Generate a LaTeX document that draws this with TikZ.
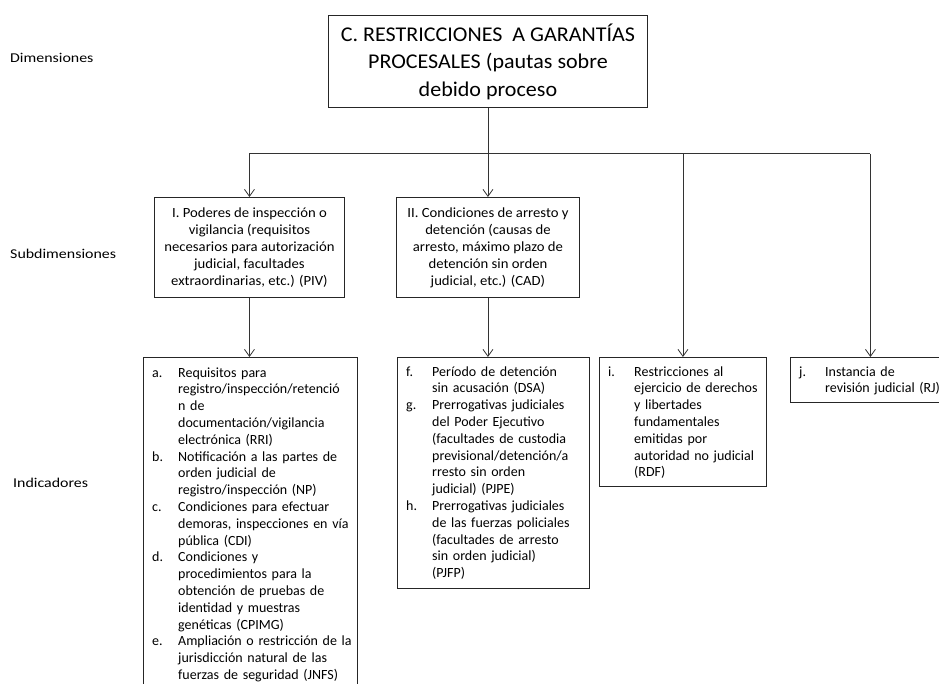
\documentclass[tikz,border=0pt]{standalone}
\usepackage{fontspec}
\setmainfont{Carlito}
\newfontfamily\widefont{Carlito}[FakeStretch=1.05]
\newfontfamily\sidefont{Carlito}[FakeStretch=1.18]
\usetikzlibrary{arrows.meta}
% hanging list: every line is indented, an item mark sits in the margin
\newcommand{\mstart}{\leftskip=26pt\parindent=0pt\parskip=0pt\relax}
\newcommand{\mitem}[1]{\par\hspace*{-26pt}\makebox[26pt][l]{\rule{0pt}{12pt}#1}\ignorespaces}
\begin{document}
\begin{tikzpicture}[x=1pt,y=-1pt,
  box/.style={draw=black!85, line width=0.9pt, rectangle, inner sep=0pt, anchor=north west},
  body/.style={inner sep=0pt, anchor=north west, text width=230pt, align=left,
    font=\fontsize{14}{16.8}\selectfont},
  sub/.style={font=\widefont\fontsize{14}{17}\selectfont, align=center},
  head/.style={font=\widefont\fontsize{21}{27.5}\selectfont, align=center},
  side/.style={font=\sidefont\fontsize{13.5}{15}\selectfont, inner sep=0pt, anchor=west},
  link/.style={draw=black!80, line width=0.8pt},
  arr/.style={link, -{Straight Barb[length=7pt,width=10pt]}}]
\clip (0,0) rectangle (939,684);
\fill[white] (0,0) rectangle (939,684);

% row labels
\node[side] (lbdim) at (10,58) {Dimensiones};
\node[side] (lbsub) at (10,254) {Subdimensiones};
\node[side] (lbind) at (13,483) {Indicadores};

% dimension
\node[box, head, minimum width=319pt, minimum height=92pt] (dim) at (328,15)
  {C. RESTRICCIONES\ \ A GARANTÍAS\\PROCESALES (pautas sobre\\debido proceso};

% subdimensions
\node[box, sub, minimum width=190pt, minimum height=100pt] (piv) at (154,197)
  {I. Poderes de inspección o\\vigilancia (requisitos\\necesarios para autorización\\judicial, facultades\\extraordinarias, etc.) (PIV)};
\node[box, sub, minimum width=183pt, minimum height=100pt] (cad) at (396,197)
  {II. Condiciones de arresto y\\detención (causas de\\arresto, máximo plazo de\\detención sin orden\\judicial, etc.) (CAD)};

% indicator boxes
\node[box, minimum width=214pt, minimum height=360pt] (ae) at (143,357) {};
\node[box, minimum width=192pt, minimum height=231pt] (fh) at (397,357) {};
\node[box, minimum width=167pt, minimum height=129pt] (rdf) at (599,357) {};
\node[box, minimum width=160pt, minimum height=45pt] (rj) at (790,357) {};

\node[body] (aetxt) at ([shift={(9,3)}]ae.north west) {\mstart
\mitem{a.}Requisitos para\\
registro/inspección/retenció\\
n de\\
documentación/vigilancia\\
electrónica (RRI)
\mitem{b.}Notificación a las partes de\\
orden judicial de\\
registro/inspección (NP)
\mitem{c.}Condiciones para efectuar\\
demoras, inspecciones en vía\\
pública (CDI)
\mitem{d.}Condiciones y\\
procedimientos para la\\
obtención de pruebas de\\
identidad y muestras\\
genéticas (CPIMG)
\mitem{e.}Ampliación o restricción de la\\
jurisdicción natural de las\\
fuerzas de seguridad (JNFS)\par};

\node[body] (fhtxt) at ([shift={(9,2)}]fh.north west) {\mstart
\mitem{f.}Período de detención\\
sin acusación (DSA)
\mitem{g.}Prerrogativas judiciales\\
del Poder Ejecutivo\\
(facultades de custodia\\
previsional/detención/a\\
rresto sin orden\\
judicial) (PJPE)
\mitem{h.}Prerrogativas judiciales\\
de las fuerzas policiales\\
(facultades de arresto\\
sin orden judicial)\\
(PJFP)\par};

\node[body] (rdftxt) at ([shift={(9,2)}]rdf.north west) {\mstart
\mitem{i.}Restricciones al\\
ejercicio de derechos\\
y libertades\\
fundamentales\\
emitidas por\\
autoridad no judicial\\
(RDF)\par};

\node[body] (rjtxt) at ([shift={(9,2)}]rj.north west) {\mstart
\mitem{j.}Instancia de\\
revisión judicial (RJ)\par};

% connectors
\path (dim.south) ++(0,46) coordinate (bus);
\coordinate (busl) at (piv.north |- bus);
\coordinate (busi) at (rdf.north |- bus);
\coordinate (busr) at (rj.north |- bus);
\draw[link] (dim.south) -- (bus);
\draw[link] (busl) -- (busr);
\draw[arr] (busl) -- (piv.north);
\draw[arr] (bus) -- (cad.north);
\draw[arr] (busi) -- (rdf.north);
\draw[arr] (busr) -- (rj.north);
\draw[arr] (piv.south) -- (piv.south |- ae.north);
\draw[arr] (cad.south) -- (cad.south |- fh.north);
\end{tikzpicture}
\end{document}
